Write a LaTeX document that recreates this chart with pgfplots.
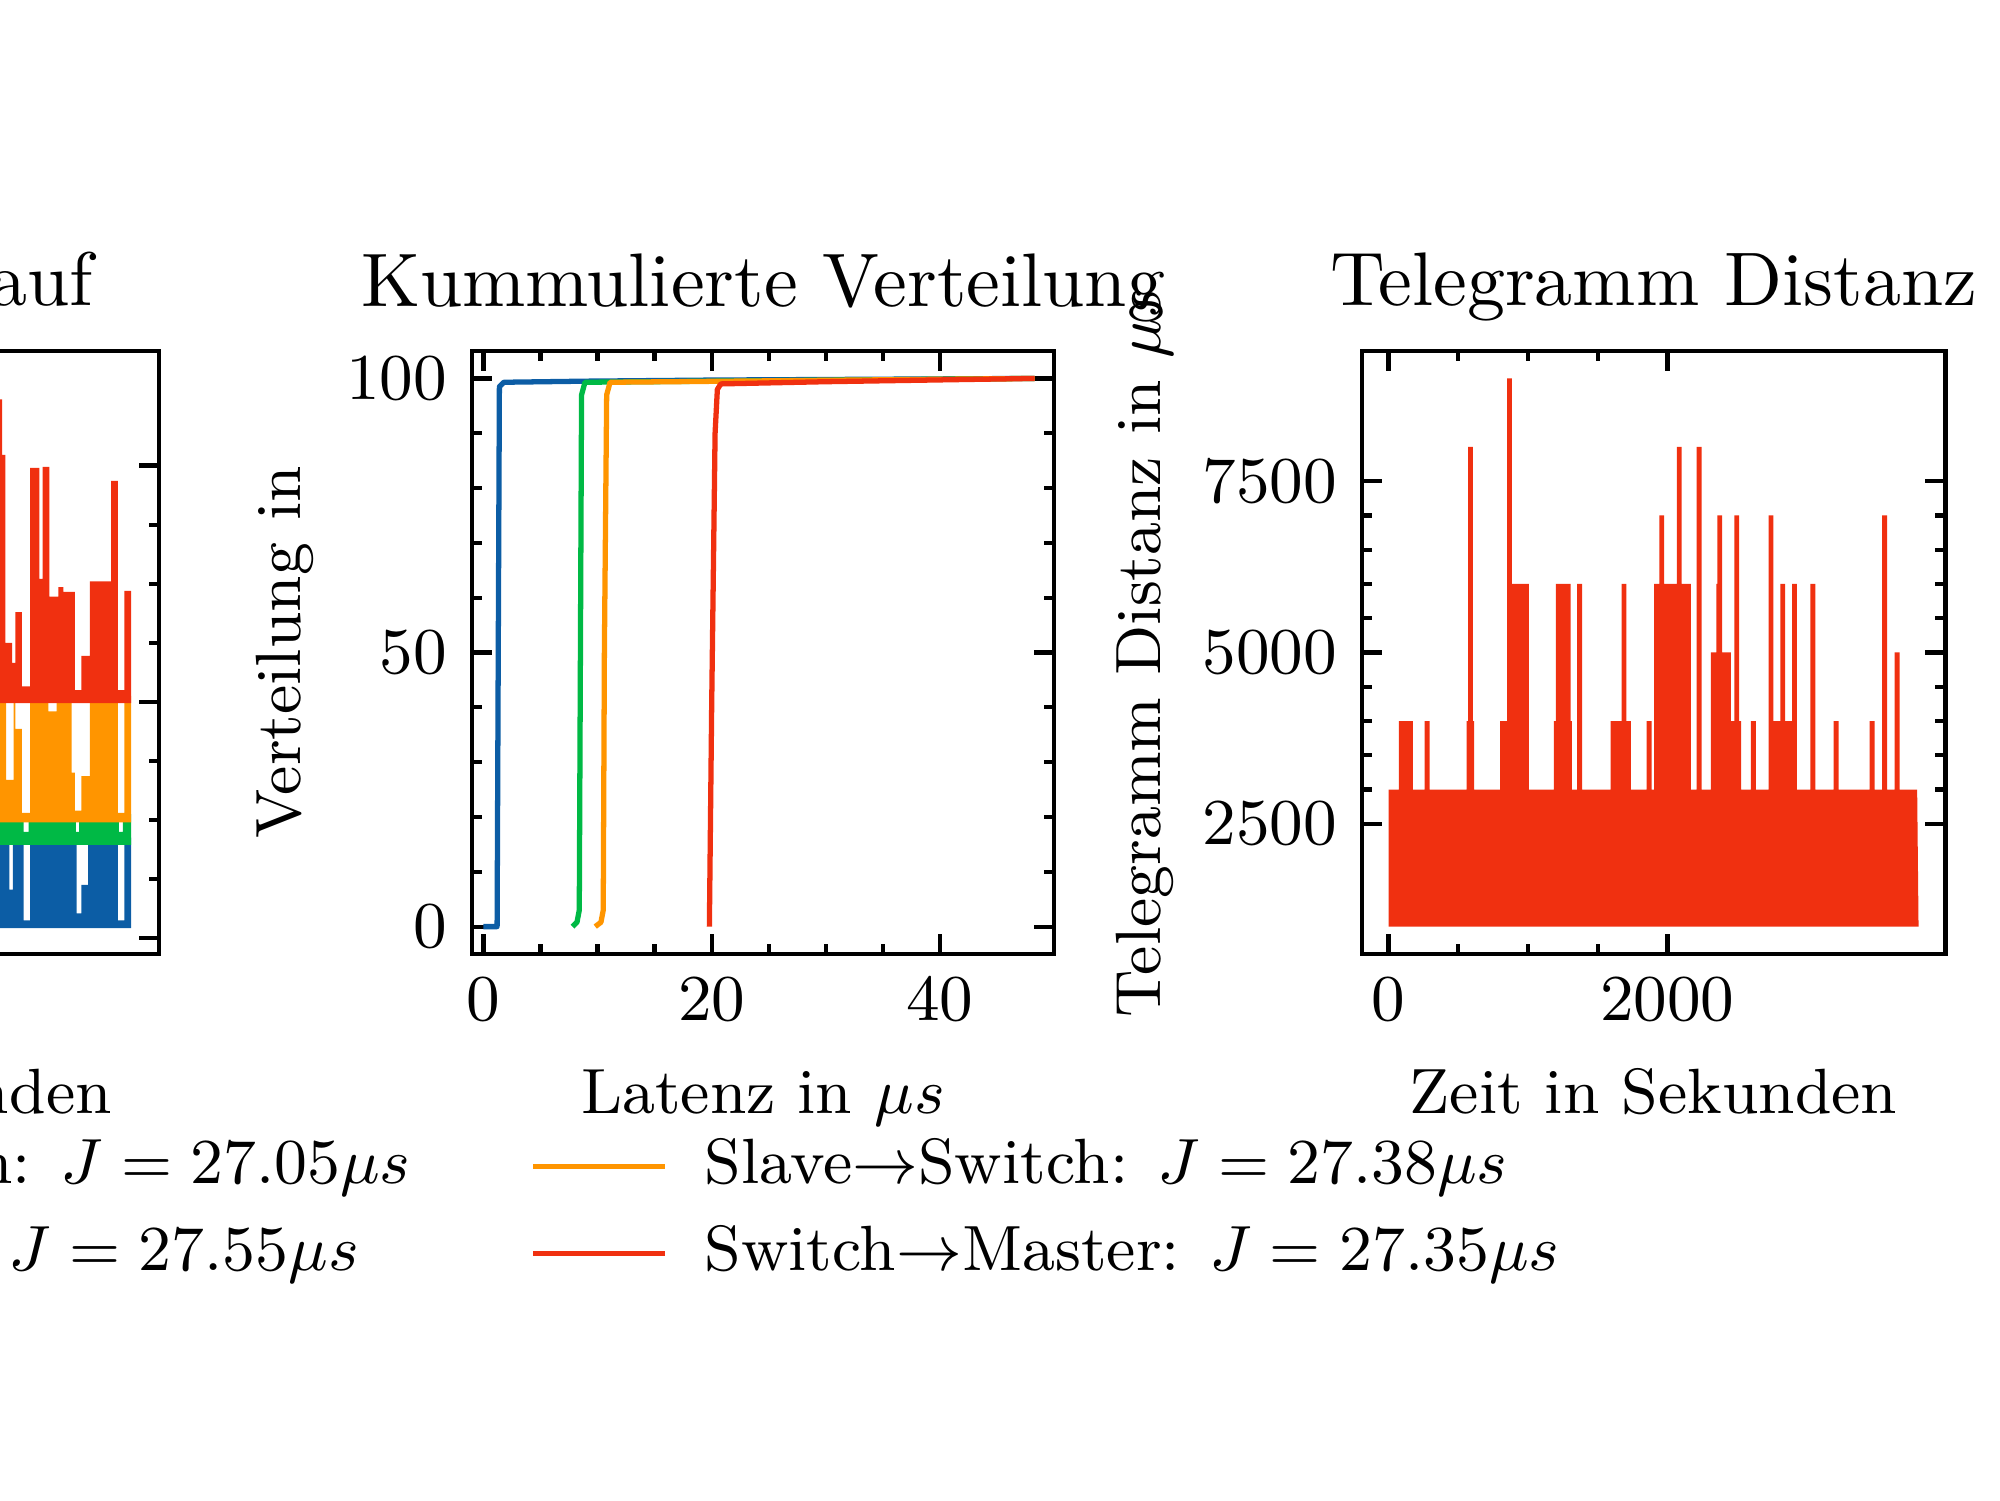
\documentclass[border=0pt]{standalone}
\usepackage{fix-cm}
\usepackage{pgfplots}
\pgfplotsset{compat=1.18}

\definecolor{sciblue}{RGB}{12,93,165}
\definecolor{scigreen}{RGB}{0,185,69}
\definecolor{sciorange}{RGB}{255,149,0}
\definecolor{scired}{RGB}{240,48,16}

\newcommand{\tckfont}{\fontsize{9.3}{11}\selectfont}
\newcommand{\lblfont}{\fontsize{9.1}{11}\selectfont}
\newcommand{\ttlfont}{\fontsize{10.8}{13}\selectfont}

\pgfplotsset{
  panel/.style={
    scale only axis, width=2.91cm, height=3.015cm,
    axis line style={line width=0.7pt},
    every tick/.append style={line width=0.6pt, black},
    tick align=inside,
    major tick length=0.1cm, minor tick length=0.05cm,
    tick label style={font=\tckfont},
    /pgf/number format/1000 sep={},
    scaled ticks=false,
    every axis title/.style={font=\ttlfont, at={(axis description cs:0.5,1)}, anchor=base, yshift=0.225cm},
    every axis x label/.style={font=\lblfont, at={(axis description cs:0.5,0)}, anchor=base, yshift=-0.795cm},
    every axis y label/.style={font=\lblfont, rotate=90, anchor=base},
  },
}

\begin{document}
\begin{tikzpicture}
\useasboundingbox (0,0) rectangle (10cm,7.5cm);
\clip (0,0) rectangle (10cm,7.5cm);

% ---------------- latency over time ----------------
\begin{axis}[panel, at={(-2.115cm,2.73cm)}, anchor=south west,
  xmin=-190, xmax=3990, ymin=-1.35, ymax=49.7,
  xtick={0,2000}, ytick={0,20,40},
  minor x tick num=3, minor y tick num=3,
  title={Latenzverlauf},
  xlabel={Zeit in Sekunden},
  ylabel={Latenz in $\mu s$},
  ylabel style={at={(axis description cs:-0.30,0.5)}},
]
% Master -> Switch
\addplot[fill=sciblue, draw=none] coordinates {
  (2790,0.85) (2790,8.5) (2915,8.5) (2915,4.1) (2940,4.1) (2940,8.5)
  (3017,8.5) (3017,1.5) (3065,1.5) (3065,8.5)
  (3398,8.5) (3398,2.1) (3433,2.1) (3433,4.5) (3481,4.5) (3481,8.5)
  (3695,8.5) (3695,1.5) (3742,1.5) (3742,8.5) (3790,8.5) (3790,0.85)
} -- cycle;
% Switch -> Slave
\addplot[fill=scigreen, draw=none] coordinates {
  (2790,7.9) (2790,10.5) (3017,10.5) (3017,9.0) (3053,9.0) (3053,10.5)
  (3393,10.5) (3393,9.0) (3417,9.0) (3417,10.5)
  (3702,10.5) (3702,9.0) (3731,9.0) (3731,10.5) (3790,10.5) (3790,7.9)
} -- cycle;
% Slave -> Switch
\addplot[fill=sciorange, draw=none] coordinates {
  (2790,9.8) (2790,20.5) (2893,20.5) (2893,13.4) (2946,13.4) (2946,20.5)
  (2958,20.5) (2958,17.7) (3005,17.7) (3005,10.6) (3065,10.6) (3065,20.5)
  (3196,20.5) (3196,19.2) (3255,19.2) (3255,20.5)
  (3362,20.5) (3362,14.0) (3386,14.0) (3386,10.8) (3433,10.8) (3433,13.7) (3493,13.7) (3493,20.5)
  (3695,20.5) (3695,10.6) (3742,10.6) (3742,20.5) (3790,20.5) (3790,9.8)
} -- cycle;
% Switch -> Master
\addplot[fill=scired, draw=none] coordinates {
  (2790,19.9) (2790,45.6) (2863,45.6) (2863,40.9) (2886,40.9) (2886,25.0)
  (2935,25.0) (2935,23.3) (2958,23.3) (2958,27.6) (3005,27.6) (3005,21.3)
  (3065,21.3) (3065,39.8) (3131,39.8) (3131,30.4) (3155,30.4) (3155,39.9)
  (3203,39.9) (3203,28.9) (3267,28.9) (3267,29.7) (3303,29.7) (3303,29.3)
  (3386,29.3) (3386,21.0) (3433,21.0) (3433,23.9) (3493,23.9) (3493,30.2)
  (3647,30.2) (3647,38.7) (3695,38.7) (3695,21.0) (3742,21.0) (3742,29.4)
  (3790,29.4) (3790,19.9)
} -- cycle;
\end{axis}

% ---------------- cumulative distribution ----------------
\begin{axis}[panel, at={(2.36cm,2.73cm)}, anchor=south west,
  xmin=-1, xmax=50, ymin=-5, ymax=105,
  xtick={0,20,40}, ytick={0,50,100},
  minor x tick num=3, minor y tick num=4,
  title={Kummulierte Verteilung},
  xlabel={Latenz in $\mu s$},
  ylabel={Verteilung in},
  ylabel style={at={(axis description cs:-0.2955,0.5)}},
  legend columns=2,
  legend cell align=left,
  legend image code/.code={\draw[#1] (0cm,0cm) -- (0.66cm,0cm);},
  legend style={at={(axis description cs:1.8705,-0.297)}, anchor=north east,
    draw=none, fill=none, inner sep=0pt, font=\lblfont,
    row sep=3.3pt, column sep=0.185cm,
    nodes={inner sep=0pt, text height=6.9pt, text depth=2.2pt},
    /tikz/every even column/.append style={column sep=0.60cm}},
]
\addplot[sciblue, line width=0.75pt, line join=round, forget plot] coordinates {
  (0,0) (1.2,0) (1.3,50) (1.4,98.5) (1.8,99.3) (9,99.5) (20,99.7) (48.3,100)
};
\addplot[scigreen, line width=0.75pt, line join=round, forget plot] coordinates {
  (7.8,0) (8.2,0.8) (8.4,3) (8.5,50) (8.6,97) (8.9,99.3) (48.3,100)
};
\addplot[sciorange, line width=0.75pt, line join=round, forget plot] coordinates {
  (9.8,0) (10.3,0.8) (10.5,3) (10.6,50) (10.8,97) (11.1,99.3) (48.3,100)
};
\addplot[scired, line width=0.75pt, line join=round, forget plot] coordinates {
  (19.8,0) (20.0,40) (20.3,90) (20.5,98) (20.8,99) (30,99.4) (48.3,100)
};
\addlegendimage{sciblue, line width=0.75pt}
\addlegendentry{Master$\rightarrow$Switch: $J = 27.05\mu s$}
\addlegendimage{sciorange, line width=0.75pt}
\addlegendentry{Slave$\rightarrow$Switch: $J = 27.38\mu s$}
\addlegendimage{scigreen, line width=0.75pt}
\addlegendentry{Switch$\rightarrow$Slave: $J = 27.55\mu s$}
\addlegendimage{scired, line width=0.75pt}
\addlegendentry{Switch$\rightarrow$Master: $J = 27.35\mu s$}
\end{axis}

% ---------------- telegram spacing ----------------
\begin{axis}[panel, at={(6.81cm,2.73cm)}, anchor=south west, width=2.915cm,
  xmin=-190, xmax=3990, ymin=600, ymax=9400,
  xtick={0,2000}, ytick={2500,5000,7500},
  minor x tick num=3, minor y tick num=4,
  title={Telegramm Distanz},
  xlabel={Zeit in Sekunden},
  ylabel={Telegramm Distanz in $\mu s$},
  ylabel style={at={(axis description cs:-0.345,0.5)}},
]
\addplot[fill=scired, draw=none] coordinates {
  (0,1000) (0,3000)
  (75,3000) (75,4000) (175,4000) (175,3000)
  (258,3000) (258,4000) (294,4000) (294,3000)
  (560,3000) (560,4000) (570,4000) (570,8000) (604,8000) (604,4000) (614,4000) (614,3000)
  (800,3000) (800,4000) (851,4000) (851,9000) (885,9000) (885,6000) (1006,6000) (1006,3000)
  (1185,3000) (1185,4000) (1200,4000) (1200,6000) (1305,6000) (1305,4000) (1315,4000) (1315,3000)
  (1352,3000) (1352,6000) (1388,6000) (1388,3000)
  (1593,3000) (1593,4000) (1672,4000) (1672,6000) (1706,6000) (1706,4000) (1737,4000) (1737,3000)
  (1850,3000) (1850,4000) (1886,4000) (1886,3000)
  (1905,3000) (1905,6000) (1941,6000) (1941,7000) (1975,7000) (1975,6000) (2067,6000)
  (2067,8000) (2101,8000) (2101,6000) (2167,6000) (2167,3000)
  (2209,3000) (2209,8000) (2245,8000) (2245,3000)
  (2311,3000) (2311,5000) (2350,5000) (2350,6000) (2358,6000) (2358,7000) (2392,7000) (2392,5000)
  (2455,5000) (2455,4000) (2480,4000) (2480,7000) (2514,7000) (2514,4000) (2527,4000) (2527,3000)
  (2598,3000) (2598,4000) (2634,4000) (2634,3000)
  (2725,3000) (2725,7000) (2759,7000) (2759,4000) (2809,4000) (2809,6000) (2843,6000) (2843,4000)
  (2893,4000) (2893,6000) (2927,6000) (2927,3000)
  (3024,3000) (3024,6000) (3060,6000) (3060,3000)
  (3191,3000) (3191,4000) (3227,4000) (3227,3000)
  (3449,3000) (3449,4000) (3485,4000) (3485,3000)
  (3538,3000) (3538,7000) (3574,7000) (3574,3000)
  (3628,3000) (3628,5000) (3664,5000) (3664,3000)
  (3790,3000) (3800,1000)
} -- cycle;
\end{axis}
\end{tikzpicture}
\end{document}
